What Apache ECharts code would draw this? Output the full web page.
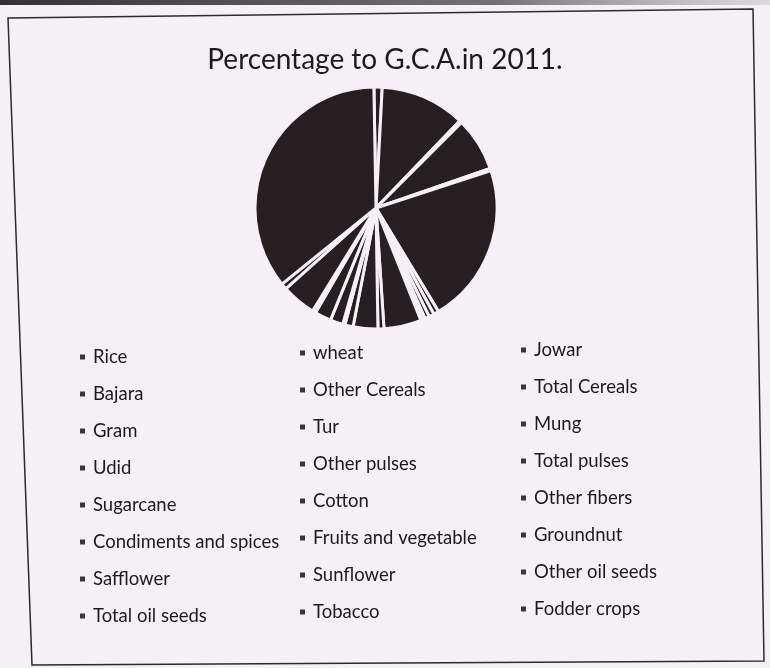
<!DOCTYPE html>
<html>
<head>
<meta charset="utf-8">
<script src="https://cdn.jsdelivr.net/npm/echarts@6/dist/echarts.min.js"></script>
<style>
  html, body { margin: 0; padding: 0; background: #f5f0f6; }
  #chart { width: 770px; height: 668px; }
</style>
</head>
<body>
<div id="chart"></div>
<script>
// Categories, in the order the slices run clockwise from 12 o'clock
const categories = [
  'Rice', 'wheat', 'Jowar', 'Bajara', 'Other Cereals', 'Total Cereals',
  'Gram', 'Tur', 'Mung', 'Udid', 'Other pulses', 'Total pulses',
  'Sugarcane', 'Cotton', 'Other fibers', 'Condiments and spices', 'Fruits and vegetable', 'Groundnut',
  'Safflower', 'Sunflower', 'Other oil seeds', 'Total oil seeds', 'Tobacco', 'Fodder crops'
];
// Percentage to G.C.A.
const values = [
  1.1, 11.4, 0.3, 7.2, 0.3, 21.4,
  0.7, 0.7, 0.6, 0.3, 0.3, 5.0,
  0.8, 3.3, 1.1, 0.3, 1.7, 2.2,
  0.15, 0.15, 0.15, 4.6, 0.8, 35.6
];
const titleText = 'Percentage to G.C.A.in 2011.';

// legend columns (legend reads row by row, three per row)
const legendCol1 = categories.filter((c, i) => i % 3 === 0);
const legendCol2 = categories.filter((c, i) => i % 3 === 1);
const legendCol3 = categories.filter((c, i) => i % 3 === 2);

const BG = '#f5f0f6';
const DARK = '#262023';
const FONT = 'Lato, "Open Sans", sans-serif';

const chart = echarts.init(document.getElementById('chart'), null, { renderer: 'canvas' });

function legendAt(left, top, data) {
  return {
    orient: 'vertical',
    left: left,
    top: top,
    data: data,
    icon: 'rect',
    itemWidth: 7,
    itemHeight: 7,
    itemGap: 15,
    selectedMode: false,
    itemStyle: { color: '#3a3639' },
    textStyle: { fontFamily: FONT, fontSize: 18.5, color: '#1c1a1c', lineHeight: 22, padding: [0, 0, 0, 2] }
  };
}

chart.setOption({
  backgroundColor: BG,
  animation: false,
  title: {
    text: titleText,
    left: 'center',
    top: 41,
    textStyle: { fontFamily: FONT, fontSize: 28, fontWeight: 'normal', color: '#1c1a1c' }
  },
  legend: [
    legendAt(73, 341, legendCol1),
    legendAt(293, 337, legendCol2),
    legendAt(514, 334, legendCol3)
  ],
  graphic: [
    {
      type: 'rect',
      shape: { x: 0, y: 0, width: 770, height: 5 },
      style: {
        fill: new echarts.graphic.LinearGradient(0, 0, 1, 0, [
          { offset: 0, color: 'rgba(40,40,40,0.95)' },
          { offset: 0.65, color: 'rgba(60,60,60,0.7)' },
          { offset: 1, color: 'rgba(120,120,120,0.2)' }
        ])
      },
      silent: true
    },
    {
      type: 'polygon',
      shape: { points: [[8, 18], [753, 9], [764, 661], [32, 665]] },
      style: { fill: 'none', stroke: '#2c2a2c', lineWidth: 1.5 },
      silent: true
    }
  ],
  series: [{
    type: 'pie',
    center: [376, 208],
    radius: [0, 121],
    startAngle: 91,
    clockwise: true,
    label: { show: false },
    labelLine: { show: false },
    emphasis: { disabled: true },
    itemStyle: { color: DARK, borderColor: BG, borderWidth: 3 },
    data: categories.map((c, i) => ({ name: c, value: values[i] }))
  }]
});
</script>
</body>
</html>
